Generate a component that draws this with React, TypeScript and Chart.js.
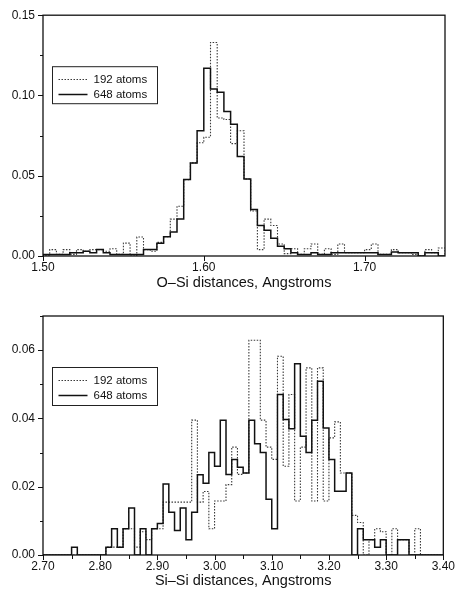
import React, { useEffect, useRef } from "react";
import { Chart, registerables } from "chart.js";

Chart.register(...registerables);

// ---------- DATA ----------
const seriesLabels = ["192 atoms", "648 atoms"];

// Top panel: O–Si distances, 60 bins from 1.50 to 1.75
const topBinStart = 1.5;
const topBinWidth = 0.25 / 60;
const topAtoms192 = [
  0.0005, 0.004, 0.001, 0.004, 0.001, 0.004, 0.003, 0.004, 0.004, 0.003,
  0.0045, 0.001, 0.008, 0.0, 0.0118, 0.004, 0.003, 0.0085, 0.012, 0.023,
  0.031, 0.0476, 0.058, 0.0705, 0.074, 0.133, 0.086, 0.085, 0.07, 0.078,
  0.048, 0.028, 0.004, 0.023, 0.019, 0.0075, 0.0015, 0.0045, 0.001, 0.0045,
  0.0075, 0.001, 0.0045, 0.001, 0.0075, 0.002, 0.002, 0.002, 0.004, 0.0075,
  0.001, 0.001, 0.004, 0.002, 0.002, 0.001, 0.0, 0.004, 0.002, 0.005,
];
const topAtoms648 = [
  0.001, 0.001, 0.001, 0.001, 0.002, 0.002, 0.003, 0.002, 0.004, 0.002,
  0.001, 0.001, 0.001, 0.001, 0.001, 0.004, 0.004, 0.008, 0.012, 0.015,
  0.023, 0.0476, 0.058, 0.078, 0.117, 0.104, 0.102, 0.09, 0.082, 0.062,
  0.048, 0.029, 0.019, 0.016, 0.011, 0.006, 0.0045, 0.002, 0.001, 0.001,
  0.002, 0.001, 0.001, 0.002, 0.002, 0.002, 0.002, 0.002, 0.002, 0.002,
  0.001, 0.001, 0.0025, 0.002, 0.002, 0.002, 0.0, 0.002, 0.002, 0.0,
];
const topXTicks = [1.5, 1.6, 1.7];
const topYTicks = [0, 0.05, 0.1, 0.15];

// Bottom panel: Si–Si distances, 70 bins from 2.70 to 3.40
const bottomBinStart = 2.7;
const bottomBinWidth = 0.01;
const bottomAtoms192 = [
  0, 0, 0, 0, 0, 0, 0, 0, 0, 0,
  0, 0.0023, 0.0023, 0.0023, 0.0077, 0.0077, 0.0023, 0.0068, 0.0045, 0.0077,
  0.0077, 0.0155, 0.0155, 0.0155, 0.0155, 0.0155, 0.0395, 0.0155, 0.0186, 0.0077,
  0.0158, 0.0158, 0.0206, 0.0316, 0.0236, 0.024, 0.0629, 0.0629, 0.0395, 0.0316,
  0.028, 0.0582, 0.026, 0.047, 0.0158, 0.0316, 0.0548, 0.0158, 0.0548, 0.0158,
  0.0343, 0.039, 0.024, 0.024, 0.0116, 0.0095, 0, 0.0045, 0.0077, 0.0068,
  0, 0.0077, 0.0045, 0.0045, 0, 0.0077, 0, 0, 0, 0,
];
const bottomAtoms648 = [
  0, 0, 0, 0, 0, 0.0023, 0, 0, 0, 0,
  0, 0.0023, 0.0077, 0.0023, 0.0077, 0.0138, 0, 0.0077, 0, 0.0077,
  0.0092, 0.0208, 0.0125, 0.0072, 0.0138, 0.0045, 0.0125, 0.0235, 0.021, 0.03,
  0.026, 0.0395, 0.0236, 0.028, 0.0257, 0.024, 0.0395, 0.0326, 0.03, 0.0163,
  0.0077, 0.047, 0.0397, 0.037, 0.056, 0.0348, 0.03, 0.0395, 0.0509, 0.0372,
  0.028, 0.0187, 0.0187, 0.024, 0, 0.0077, 0.0045, 0.0045, 0.0023, 0.0045,
  0, 0, 0.0045, 0.0045, 0, 0, 0, 0, 0, 0,
];
const bottomXTicks = [2.7, 2.8, 2.9, 3.0, 3.1, 3.2, 3.3, 3.4];
const bottomYTicks = [0, 0.02, 0.04, 0.06];

// ---------- HELPERS ----------
const FONT = "'Liberation Sans', Arial, Helvetica, sans-serif";

function histPoints(start: number, width: number, values: number[]) {
  const n = values.length;
  const pts: { x: number; y: number }[] = [{ x: start, y: 0 }];
  values.forEach((v, i) => pts.push({ x: start + i * width, y: v }));
  pts.push({ x: start + n * width, y: values[n - 1] });
  pts.push({ x: start + n * width, y: 0 });
  return pts;
}

type Panel = {
  height: number;
  padTop: number;
  padRight: number;
  yWidth: number;
  xHeight: number;
  titlePad: number;
  xMin: number;
  xMax: number;
  yMin: number;
  yMax: number;
  xTicks: number[];
  yTicks: number[];
  xMinorStep: number;
  yMinorStep: number;
  title: string;
  binStart: number;
  binWidth: number;
  s192: number[];
  s648: number[];
  legendH: number;
};

function seq(min: number, max: number, step: number) {
  const out: number[] = [];
  const n = Math.round((max - min) / step);
  for (let k = 0; k <= n; k++) out.push(min + k * step);
  return out;
}

function decorPlugin(p: Panel) {
  return {
    id: "decor",
    afterDraw(chart: any) {
      const { ctx, chartArea: a, scales } = chart;
      const xs = scales.x;
      const ys = scales.y;
      ctx.save();
      // frame
      ctx.strokeStyle = "#111";
      ctx.lineWidth = 1.3;
      ctx.strokeRect(a.left, a.top, a.right - a.left, a.bottom - a.top);
      // ticks
      ctx.lineWidth = 1;
      ctx.beginPath();
      const majorX = new Set(p.xTicks.map((v) => v.toFixed(3)));
      if (p.xMinorStep > 0) {
        seq(p.xMin, p.xMax, p.xMinorStep).forEach((v) => {
          const px = Math.round(xs.getPixelForValue(v)) + 0.5;
          const len = majorX.has(v.toFixed(3)) ? 5 : 4;
          ctx.moveTo(px, a.bottom);
          ctx.lineTo(px, a.bottom + len);
        });
      }
      p.xTicks.forEach((v) => {
        const px = Math.round(xs.getPixelForValue(v)) + 0.5;
        ctx.moveTo(px, a.bottom);
        ctx.lineTo(px, a.bottom + 5);
      });
      const majorY = new Set(p.yTicks.map((v) => v.toFixed(3)));
      seq(p.yMin, p.yMax, p.yMinorStep).forEach((v) => {
        const py = Math.round(ys.getPixelForValue(v)) + 0.5;
        const len = majorY.has(v.toFixed(3)) ? 5 : 3;
        ctx.moveTo(a.left, py);
        ctx.lineTo(a.left - len, py);
      });
      ctx.stroke();

      // legend
      const bx = a.left + 9.5;
      const by = a.top + 51.5;
      const bw = 105;
      const bh = p.legendH;
      ctx.fillStyle = "#fff";
      ctx.fillRect(bx, by, bw, bh);
      ctx.strokeStyle = "#222";
      ctx.lineWidth = 1;
      ctx.strokeRect(bx, by, bw, bh);
      const ds = chart.data.datasets;
      const rows = [ds[1], ds[0]];
      rows.forEach((d: any, i: number) => {
        const y = Math.round(by + 12 + i * 15) + 0.5;
        ctx.strokeStyle = d.borderColor;
        ctx.lineWidth = d.borderWidth;
        ctx.setLineDash(d.borderDash || []);
        ctx.beginPath();
        ctx.moveTo(bx + 6, y);
        ctx.lineTo(bx + 35, y);
        ctx.stroke();
        ctx.setLineDash([]);
        ctx.fillStyle = "#111";
        ctx.font = `11.5px ${FONT}`;
        ctx.textBaseline = "middle";
        ctx.textAlign = "left";
        ctx.fillText(d.label, bx + 41, y);
      });
      ctx.restore();
    },
  };
}

function makeConfig(p: Panel): any {
  return {
    type: "line",
    data: {
      datasets: [
        {
          label: seriesLabels[1],
          data: histPoints(p.binStart, p.binWidth, p.s648),
          borderColor: "#111",
          borderWidth: 1.5,
          stepped: "before",
          pointRadius: 0,
          fill: false,
        },
        {
          label: seriesLabels[0],
          data: histPoints(p.binStart, p.binWidth, p.s192),
          borderColor: "#3a3a3a",
          borderWidth: 1.1,
          borderDash: [1.5, 1.5],
          stepped: "before",
          pointRadius: 0,
          fill: false,
        },
      ],
    },
    options: {
      responsive: false,
      animation: false,
      events: [],
      layout: { padding: { top: p.padTop, right: p.padRight, left: 0, bottom: 0 } },
      plugins: { legend: { display: false }, tooltip: { enabled: false } },
      scales: {
        x: {
          type: "linear",
          min: p.xMin,
          max: p.xMax,
          afterFit: (s: any) => {
            s.height = p.xHeight;
          },
          afterBuildTicks: (s: any) => {
            s.ticks = p.xTicks.map((v) => ({ value: v }));
          },
          grid: { display: false, drawTicks: false },
          border: { display: false },
          ticks: {
            autoSkip: false,
            maxRotation: 0,
            padding: 4,
            color: "#111",
            font: { family: FONT, size: 12 },
            callback: (v: any) => Number(v).toFixed(2),
          },
          title: {
            display: true,
            text: p.title,
            color: "#111",
            font: { family: FONT, size: 14.5 },
            padding: { top: 0, bottom: p.titlePad },
          },
        },
        y: {
          type: "linear",
          min: p.yMin,
          max: p.yMax,
          afterFit: (s: any) => {
            s.width = p.yWidth;
          },
          afterBuildTicks: (s: any) => {
            s.ticks = p.yTicks.map((v) => ({ value: v }));
          },
          grid: { display: false, drawTicks: false },
          border: { display: false },
          ticks: {
            autoSkip: false,
            padding: 8,
            color: "#111",
            font: { family: FONT, size: 12 },
            callback: (v: any) => Number(v).toFixed(2),
          },
        },
      },
    },
    plugins: [decorPlugin(p)],
  };
}

const topPanel: Panel = {
  height: 295,
  padTop: 15,
  padRight: 14,
  yWidth: 43,
  xHeight: 39,
  titlePad: 3.5,
  xMin: 1.5,
  xMax: 1.75,
  yMin: 0,
  yMax: 0.15,
  xTicks: topXTicks,
  yTicks: topYTicks,
  xMinorStep: 0,
  yMinorStep: 0.025,
  title: "O\u2013Si distances, Angstroms",
  binStart: topBinStart,
  binWidth: topBinWidth,
  s192: topAtoms192,
  s648: topAtoms648,
  legendH: 37,
};

const bottomPanel: Panel = {
  height: 290,
  padTop: 16,
  padRight: 14,
  yWidth: 43,
  xHeight: 35,
  titlePad: 0,
  xMin: 2.7,
  xMax: 3.4,
  yMin: 0,
  yMax: 0.07,
  xTicks: bottomXTicks,
  yTicks: bottomYTicks,
  xMinorStep: 0.05,
  yMinorStep: 0.01,
  title: "Si\u2013Si distances, Angstroms",
  binStart: bottomBinStart,
  binWidth: bottomBinWidth,
  s192: bottomAtoms192,
  s648: bottomAtoms648,
  legendH: 38,
};

function HistChart({ panel, top }: { panel: Panel; top: number }) {
  const ref = useRef<HTMLCanvasElement | null>(null);
  useEffect(() => {
    if (!ref.current) return;
    const chart = new Chart(ref.current, makeConfig(panel));
    return () => chart.destroy();
  }, [panel]);
  return (
    <canvas
      ref={ref}
      width={459}
      height={panel.height}
      style={{ position: "absolute", left: 0, top, width: 459, height: panel.height }}
    />
  );
}

export default function App() {
  return (
    <div
      style={{
        position: "absolute",
        left: 0,
        top: 0,
        width: 459,
        height: 590,
        background: "#fff",
        overflow: "hidden",
      }}
    >
      <HistChart panel={topPanel} top={0} />
      <HistChart panel={bottomPanel} top={300} />
    </div>
  );
}
